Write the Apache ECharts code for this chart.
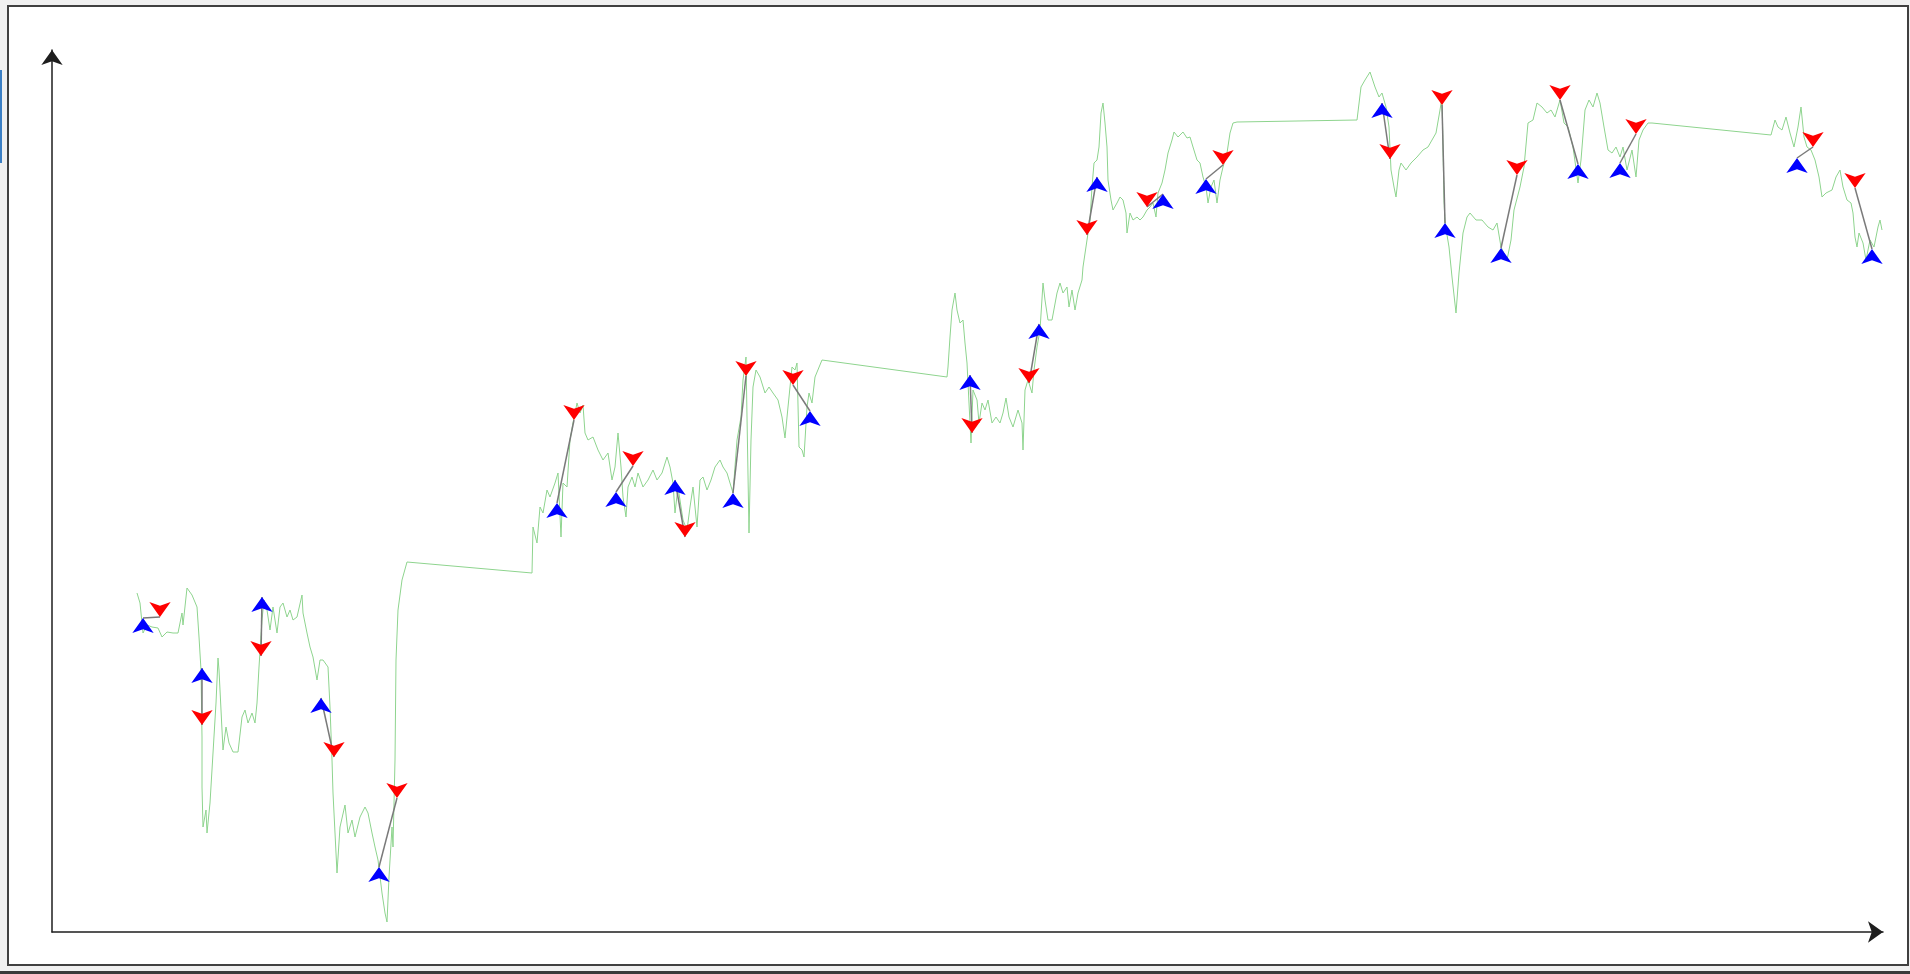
<!DOCTYPE html>
<html>
<head>
<meta charset="utf-8">
<script src="https://cdn.jsdelivr.net/npm/echarts/dist/echarts.min.js"></script>
<style>
  html, body { margin: 0; padding: 0; width: 1910px; height: 974px; overflow: hidden; background: #f0f0f0; }
  #frame { position: absolute; left: 7px; top: 5px; width: 1898px; height: 957px; border: 2px solid #404040; background: #fff; }
  #edge { position: absolute; left: 0; top: 70px; width: 2px; height: 93px; background: #3b7fc4; }
  #bar { position: absolute; left: 0; top: 971px; width: 1910px; height: 3px; background: #3a3a3a; }
  #main { position: absolute; left: 0; top: 0; width: 1910px; height: 974px; }
</style>
</head>
<body>
<div id="frame"></div>
<div id="edge"></div>
<div id="bar"></div>
<div id="main"></div>
<script>
// price path, one array per trading session (bar, price)
const session1 = [
  [85,339],[88,329],[91,299],[95,307],[100,305],[106,304],[110,295],[115,300],[121,299],[126,299],
  [130,319],[131,307],[135,344],[140,337],[145,325],[147,295],[149,262],[150,195],[150,145],[151,105],
  [154,122],[155,99],[158,129],[161,179],[164,229],[166,274],[167,262],[169,222],[171,182],[174,205],
  [177,189],[181,180],[186,180],[190,215],[193,222],[196,209],[200,219],[203,209],[205,229],[207,265],
  [210,312],[212,332],[215,322],[218,302],[221,325],[225,299],[228,325],[231,329],[235,315],[238,322],
  [241,312],[245,315],[250,337],[251,319],[255,299],[258,285],[261,275],[265,252],[268,272],[271,272],
  [276,265],[278,225],[280,172],[281,139],[285,59],[288,105],[293,127],[296,99],[300,112],[303,95],
  [308,115],[313,125],[316,119],[320,99],[323,85],[326,72],[330,39],[333,19],[335,10],[337,55],
  [340,105],[341,85],[343,172],[344,272],[346,322],[350,352],[355,370]
];
const session2 = [
  [480,359],[481,405],[485,389],[488,425],[491,419],[495,442],[498,435],[503,449],[506,459],[509,395],
  [511,449],[515,445],[518,492],[521,509],[525,529],[528,519],[531,527],[533,499],[536,492],[541,495],
  [546,482],[551,472],[556,479],[560,452],[563,465],[566,499],[569,465],[571,435],[574,415],[576,445],
  [580,455],[583,445],[586,459],[591,445],[596,452],[601,462],[605,452],[610,459],[615,475],[618,465],
  [621,449],[623,419],[626,445],[631,412],[635,402],[638,425],[641,445],[645,405],[648,452],[651,455],
  [655,442],[659,452],[663,465],[668,472],[671,465],[675,459],[681,439],[685,492],[689,515],[691,552],
  [694,575],[695,515],[697,399],[699,492],[701,545],[704,562],[708,555],[713,539],[717,545],[721,539],
  [726,532],[730,515],[733,494],[736,525],[740,565],[743,562],[745,569],[747,485],[750,482],[752,475],
  [755,525],[757,539],[760,529],[763,555],[770,572]
];
const session3 = [
  [895,555],[896,565],[898,595],[900,622],[903,639],[905,622],[908,609],[911,612],[913,589],[915,569],
  [917,529],[919,489],[921,542],[925,532],[927,509],[930,529],[933,522],[936,532],[940,509],[944,515],
  [948,509],[951,519],[954,534],[957,515],[961,505],[966,522],[970,509],[971,482],[973,542],[976,552],
  [980,539],[982,562],[985,585],[988,602],[991,649],[993,632],[996,612],[1000,612],[1005,639],[1008,649],
  [1011,639],[1015,645],[1017,625],[1020,642],[1023,622],[1026,639],[1030,652],[1031,665],[1035,692],[1038,712],
  [1040,745],[1042,769],[1045,772],[1047,785],[1049,819],[1051,829],[1053,809],[1055,785],[1056,752],[1059,732],
  [1061,722],[1065,729],[1068,735],[1071,732],[1074,719],[1075,699],[1078,719],[1081,712],[1085,715],[1088,712],
  [1091,715],[1095,722],[1098,725],[1101,729],[1104,715],[1106,739],[1110,749],[1113,762],[1116,779],[1120,792],
  [1122,800],[1126,795],[1131,800],[1135,794],[1138,795],[1141,785],[1145,772],[1148,769],[1151,755],[1154,745],
  [1156,729],[1159,745],[1162,752],[1165,729],[1168,752],[1171,765],[1175,779],[1178,799],[1181,809],[1185,810]
];
const session4 = [
  [1305,812],[1309,845],[1313,852],[1318,860],[1323,845],[1327,835],[1330,839],[1334,825],[1337,805],[1339,762],
  [1342,745],[1344,735],[1347,762],[1349,769],[1354,762],[1359,769],[1365,775],[1371,782],[1376,785],[1380,792],
  [1384,799],[1388,822],[1390,835],[1392,732],[1393,709],[1397,685],[1400,655],[1404,619],[1407,659],[1411,699],
  [1415,715],[1418,719],[1424,712],[1430,712],[1436,705],[1441,702],[1445,709],[1449,685],[1455,672],[1459,692],
  [1462,722],[1468,745],[1472,765],[1476,809],[1481,812],[1485,829],[1490,825],[1495,819],[1499,822],[1503,815],
  [1508,832],[1512,809],[1516,805],[1521,785],[1526,749],[1529,772],[1533,822],[1537,832],[1541,825],[1545,839],
  [1548,829],[1552,805],[1556,782],[1560,779],[1564,785],[1568,775],[1571,785],[1575,762],[1580,782],[1584,755],
  [1587,792],[1591,802],[1596,809],[1600,809]
];
const session5 = [
  [1719,797],[1723,812],[1726,805],[1730,802],[1734,815],[1738,799],[1742,785],[1746,805],[1749,825],[1752,795],
  [1755,785],[1759,782],[1763,772],[1767,755],[1770,735],[1774,739],[1780,742],[1784,755],[1788,762],[1791,745],
  [1795,732],[1799,729],[1801,719],[1803,695],[1805,685],[1807,699],[1811,689],[1814,672],[1818,692],[1822,685],
  [1826,705],[1828,712],[1830,702]
];

// trades: buys[i] is paired with sells[i]
const buys = [
  [91,314],[150,264],[210,335],[269,234],[327,65],[505,429],[564,440],[623,452],[681,439],[758,521],[918,557],
  [987,608],[1045,755],[1111,738],[1154,753],[1330,829],[1393,709],[1449,684],[1526,768],[1568,769],[1745,774],[1820,683]
];
const sells = [
  [108,315],[150,207],[209,276],[282,175],[345,134],[522,512],[581,466],[633,395],[694,556],[741,547],[920,499],
  [977,549],[1035,697],[1095,725],[1171,767],[1338,773],[1390,827],[1465,757],[1508,832],[1584,798],[1761,785],[1803,744]
];

const xMax = 1831;
const yMax = 882;

const price = [].concat(session1, session2, session3, session4, session5);
const links = buys.map((b, i) => ({ coords: [b, sells[i]] }));

const chart = echarts.init(document.getElementById('main'));

const axisCommon = {
  type: 'value',
  axisLine: {
    show: true,
    symbol: ['none', 'arrow'],
    symbolSize: [16, 15],
    lineStyle: { color: '#1e1e1e', width: 1.5 }
  },
  axisTick: { show: false },
  axisLabel: { show: false },
  splitLine: { show: false }
};

chart.setOption({
  animation: false,
  backgroundColor: 'transparent',
  grid: { left: 52, right: 27, top: 50, bottom: 42 },
  xAxis: Object.assign({}, axisCommon, { min: 0, max: xMax }),
  yAxis: Object.assign({}, axisCommon, { min: 0, max: yMax }),
  series: [
    {
      type: 'line',
      data: price,
      showSymbol: false,
      clip: false,
      lineStyle: { color: '#8ed48e', width: 1 },
      z: 1
    },
    {
      type: 'lines',
      coordinateSystem: 'cartesian2d',
      data: links,
      lineStyle: { color: '#7a7a7a', width: 1.5, opacity: 1 },
      z: 3
    },
    {
      type: 'scatter',
      data: buys,
      symbol: 'arrow',
      symbolSize: [16, 15],
      itemStyle: { color: '#0000ff', opacity: 1 },
      z: 4
    },
    {
      type: 'scatter',
      data: sells,
      symbol: 'arrow',
      symbolRotate: 180,
      symbolSize: [16, 15],
      itemStyle: { color: '#ff0000', opacity: 1 },
      z: 4
    }
  ]
});
</script>
</body>
</html>
